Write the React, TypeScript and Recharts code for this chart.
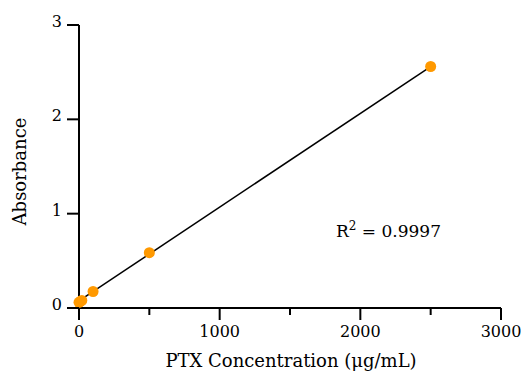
import React from 'react';
import { ScatterChart, Scatter, XAxis, YAxis, Label } from 'recharts';

const concentrations = [0, 10, 20, 100, 500, 2500];
const absorbances = [0.06, 0.07, 0.08, 0.175, 0.586, 2.56];
const fitX = [0, 2500];
const fitY = [0.075, 2.56];
const xTicks = [0, 500, 1000, 1500, 2000, 2500, 3000];
const xMajor = [0, 1000, 2000, 3000];
const yTicks = [0, 1, 2, 3];
const r2Value = '0.9997';
const xTitle = 'PTX Concentration (μg/mL)';
const yTitle = 'Absorbance';

const points = concentrations.map((x, i) => ({ x, y: absorbances[i] }));
const fitLine = fitX.map((x, i) => ({ x, y: fitY[i] }));

const FONT = '"DejaVu Serif", serif';
const ORANGE = '#FF9900';

const XTick = (props: any) => {
  const { x, y, payload } = props;
  const major = xMajor.includes(payload.value);
  return (
    <g>
      <line x1={x} x2={x} y1={y} y2={y + (major ? 12 : 7)} stroke="#000" strokeWidth={2} />
      {major && (
        <text x={x} y={y + 29} textAnchor="middle" fontFamily={FONT} fontSize={16} fill="#000">
          {payload.value}
        </text>
      )}
    </g>
  );
};

const YTick = (props: any) => {
  const { x, y, payload } = props;
  return (
    <g>
      <line x1={x - 12} x2={x} y1={y} y2={y} stroke="#000" strokeWidth={2} />
      <text x={x - 17} y={y + 2} textAnchor="end" fontFamily={FONT} fontSize={16} fill="#000">
        {payload.value}
      </text>
    </g>
  );
};

const Dot = (props: any) => <circle cx={props.cx} cy={props.cy} r={5.5} fill={ORANGE} />;
const NoShape = () => <g />;

export default function App() {
  return (
    <div style={{ position: 'absolute', left: 0, top: 0, width: 527, height: 378, background: '#fff' }}>
      <ScatterChart width={527} height={378} margin={{ top: 25, right: 26, bottom: 0, left: 0 }}>
        <XAxis
          type="number"
          dataKey="x"
          domain={[0, 3000]}
          ticks={xTicks}
          interval={0}
          tickSize={0}
          tickMargin={0}
          tickLine={false}
          tick={<XTick />}
          axisLine={{ stroke: '#000', strokeWidth: 2 }}
          height={70}
        >
          <Label
            content={(p: any) => {
              const vb = p.viewBox;
              return (
                <text x={vb.x + vb.width / 2 + 1} y={vb.y + 59} textAnchor="middle" fontFamily={FONT} fontSize={18} fill="#000">
                  {xTitle}
                </text>
              );
            }}
          />
        </XAxis>
        <YAxis
          type="number"
          dataKey="y"
          domain={[0, 3]}
          ticks={yTicks}
          interval={0}
          tickSize={0}
          tickMargin={0}
          tickLine={false}
          tick={<YTick />}
          axisLine={{ stroke: '#000', strokeWidth: 2 }}
          width={79}
        >
          <Label
            content={(p: any) => {
              const vb = p.viewBox;
              const cx = 26;
              const cy = vb.y + vb.height / 2 + 5;
              return (
                <text x={cx} y={cy} textAnchor="middle" transform={`rotate(-90 ${cx} ${cy})`} fontFamily={FONT} fontSize={18} fill="#000">
                  {yTitle}
                </text>
              );
            }}
          />
        </YAxis>
        <Scatter data={fitLine} line={{ stroke: '#000', strokeWidth: 1.5 }} shape={<NoShape />} isAnimationActive={false} />
        <Scatter data={points} shape={<Dot />} isAnimationActive={false} />
      </ScatterChart>
      <div style={{ position: 'absolute', left: 336, top: 221, fontFamily: FONT, fontSize: 17, color: '#000', lineHeight: '20px', whiteSpace: 'nowrap' }}>
        R<span style={{ fontSize: 12, position: 'relative', top: -7 }}>2</span> = {r2Value}
      </div>
    </div>
  );
}
